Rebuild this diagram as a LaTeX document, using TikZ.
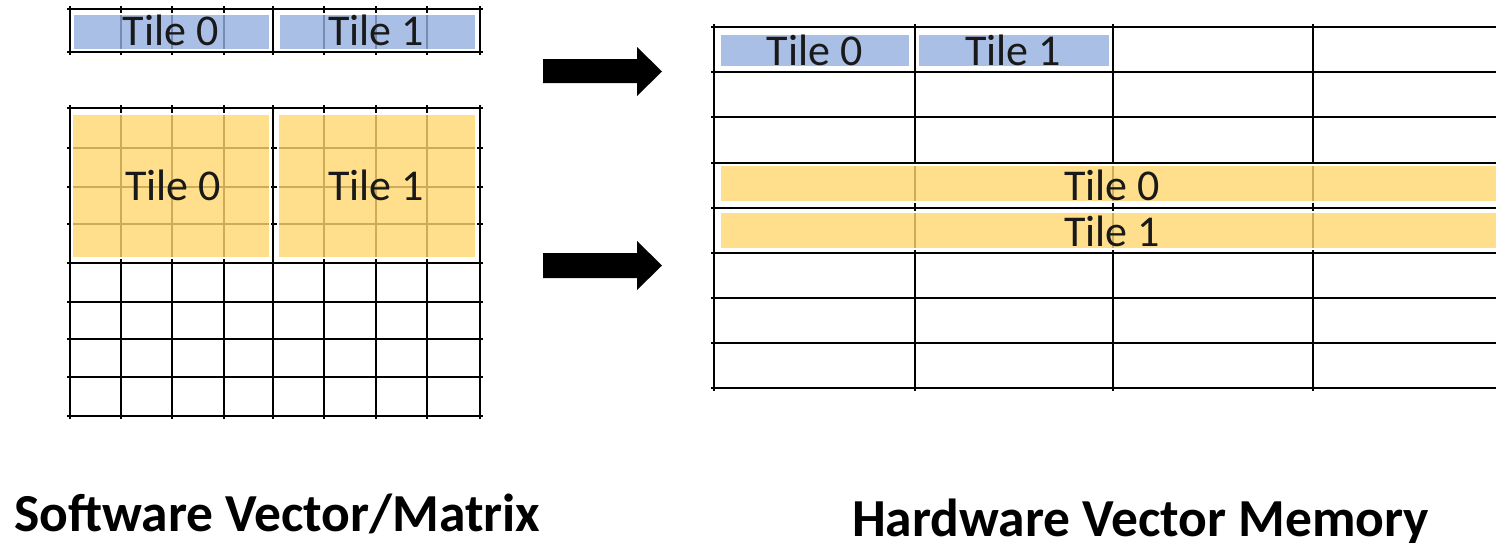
\documentclass[tikz,border=0pt]{standalone}
\usepackage{fontspec}
\newfontfamily\carlito{Carlito}
\definecolor{bluebase}{RGB}{149,175,224}
\definecolor{yellowbase}{RGB}{255,216,111}
\tikzset{
  gridline/.style={line width=2.4pt, black},
  tilegap/.style={white, line width=2pt},
  bluetile/.style={fill=bluebase, fill opacity=0.8},
  yellowtile/.style={fill=yellowbase, fill opacity=0.8},
  tilelabel/.style={font=\carlito\fontsize{44}{44}\selectfont, text=black!90, inner sep=0pt, anchor=base},
  caption/.style={font=\carlito\bfseries\fontsize{53.5}{53.5}\selectfont, text=black, inner sep=0pt, anchor=base west},
  blockarrow/.style={fill=black},
}
\begin{document}
\begin{tikzpicture}[x=1pt, y=-1pt]
  \useasboundingbox (0,0) rectangle (1496,542);
  \fill[white] (0,0) rectangle (1496,542);
  \clip (0,0) rectangle (1496,542);

  % ---- software side: vector (one row) ----
  \foreach \y in {9,52} \draw[gridline] (67,\y) -- (483,\y);
  \foreach \x in {70,121,172,224,273,324,376,427,480} \draw[gridline] (\x,6) -- (\x,55);

  % ---- software side: matrix (8 x 8) ----
  \foreach \y in {108,148,187,224,263,302,339,377,416} \draw[gridline] (67,\y) -- (483,\y);
  \foreach \x in {70,121,172,224,273,324,376,427,480} \draw[gridline] (\x,105) -- (\x,419);

  % ---- hardware side: memory rows ----
  \foreach \y in {27,72,117,163,208,253,298,343,388} \draw[gridline] (711,\y) -- (1516,\y);
  \foreach \x in {714,915,1113,1313,1513} \draw[gridline] (\x,24) -- (\x,391);

  % ---- tiles: white outline, translucent fill ----
  \foreach \xa/\ya/\xb/\yb in {74/15/269/49, 280/15/475/49, 721/35/909/66, 919/35/1109/66} {
    \draw[tilegap] (\xa-1,\ya-1) rectangle (\xb+1,\yb+1);
    \fill[bluetile] (\xa,\ya) rectangle (\xb,\yb);
  }
  \foreach \xa/\ya/\xb/\yb in {73/115/269/257, 279/115/475/257, 721/166/1506/201, 721/213/1506/248} {
    \draw[tilegap] (\xa-1,\ya-1) rectangle (\xb+1,\yb+1);
    \fill[yellowtile] (\xa,\ya) rectangle (\xb,\yb);
  }

  % ---- tile labels ----
  \node[tilelabel] (svt0) at (170.5,45) {Tile 0};
  \node[tilelabel] (svt1) at (376,45) {Tile 1};
  \node[tilelabel] (smt0) at (173,200) {Tile 0};
  \node[tilelabel] (smt1) at (376,200) {Tile 1};
  \node[tilelabel] (hvt0) at (814.5,65) {Tile 0};
  \node[tilelabel] (hvt1) at (1013,65) {Tile 1};
  \node[tilelabel] (hmt0) at (1112,200) {Tile 0};
  \node[tilelabel] (hmt1) at (1112,246) {Tile 1};

  % ---- mapping arrows ----
  \fill[blockarrow] (543,59) -- (637,59) -- (637,47) -- (662,71.5) -- (637,96) -- (637,83) -- (543,83) -- cycle;
  \fill[blockarrow] (543,253) -- (637,253) -- (637,241) -- (662,265.5) -- (637,290) -- (637,278) -- (543,278) -- cycle;

  % ---- captions ----
  \node[caption] (swcap) at (14,531) {Software Vector/Matrix};
  \node[caption] (hwcap) at (852,536) {Hardware Vector Memory};
\end{tikzpicture}
\end{document}
